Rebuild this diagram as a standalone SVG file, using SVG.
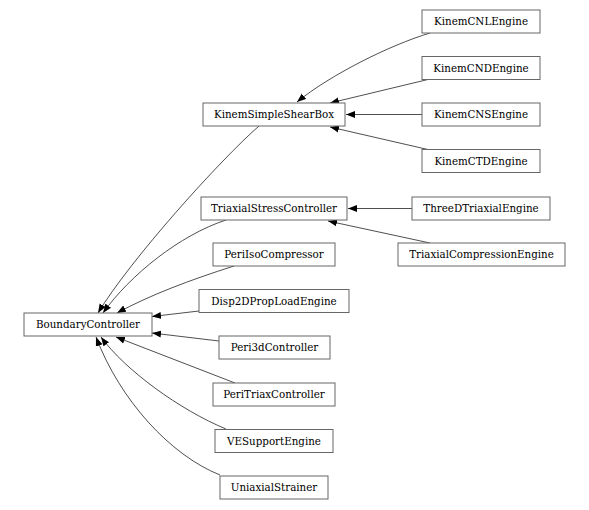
<svg xmlns="http://www.w3.org/2000/svg" width="589" height="510" viewBox="0 0 589 510">
<style>
.n rect{fill:#fff;stroke:#666;stroke-width:1}
.n text{font-family:"DejaVu Serif",serif;font-size:10.3px;fill:#000;text-anchor:middle}
.e path{fill:none;stroke:#222;stroke-width:0.8}
</style>
<defs>
<marker id="a" markerWidth="10" markerHeight="8" refX="9" refY="4" orient="auto" markerUnits="userSpaceOnUse">
<path d="M0,0.5 L9,4 L0,7.5 Z" fill="#000"/>
</marker>
</defs>
<rect width="589" height="510" fill="#fff"/>
<g class="e">
<path d="M430,33 C390,45 330,75 297,102" marker-end="url(#a)"/>
<path d="M430,79 L330,103" marker-end="url(#a)"/>
<path d="M422,114.5 L346,114.5" marker-end="url(#a)"/>
<path d="M430,150 L330,127" marker-end="url(#a)"/>
<path d="M412,208.5 L348,208.5" marker-end="url(#a)"/>
<path d="M430,243 L328,221" marker-end="url(#a)"/>
<path d="M259,126 C220,160 130,260 98,313" marker-end="url(#a)"/>
<path d="M226,220 C180,235 130,275 103,313" marker-end="url(#a)"/>
<path d="M234,266 C190,280 150,295 117,313" marker-end="url(#a)"/>
<path d="M199,311 L152,316.5" marker-end="url(#a)"/>
<path d="M219,341 L152,333" marker-end="url(#a)"/>
<path d="M235,383 L116,337" marker-end="url(#a)"/>
<path d="M226,429 C180,410 125,370 101,337" marker-end="url(#a)"/>
<path d="M220,475 C170,455 120,400 96,337" marker-end="url(#a)"/>
</g>
<g id="KinemCNLEngine" class="n"><rect x="422" y="10" width="118" height="23"/><text x="481" y="25">KinemCNLEngine</text></g>
<g id="KinemCNDEngine" class="n"><rect x="422" y="56.5" width="118" height="23"/><text x="481" y="71.5">KinemCNDEngine</text></g>
<g id="KinemSimpleShearBox" class="n"><rect x="203" y="103" width="142" height="23"/><text x="274" y="118">KinemSimpleShearBox</text></g>
<g id="KinemCNSEngine" class="n"><rect x="422" y="103" width="118" height="23"/><text x="481" y="118">KinemCNSEngine</text></g>
<g id="KinemCTDEngine" class="n"><rect x="422" y="149.5" width="118" height="23"/><text x="481" y="164.5">KinemCTDEngine</text></g>
<g id="TriaxialStressController" class="n"><rect x="201" y="197" width="146" height="23"/><text x="274" y="212">TriaxialStressController</text></g>
<g id="ThreeDTriaxialEngine" class="n"><rect x="412" y="197" width="138" height="23"/><text x="481" y="212">ThreeDTriaxialEngine</text></g>
<g id="TriaxialCompressionEngine" class="n"><rect x="398" y="243" width="167" height="23"/><text x="481.5" y="258">TriaxialCompressionEngine</text></g>
<g id="PeriIsoCompressor" class="n"><rect x="213" y="243" width="122" height="23"/><text x="274" y="258">PeriIsoCompressor</text></g>
<g id="Disp2DPropLoadEngine" class="n"><rect x="199" y="289.5" width="150" height="23"/><text x="274" y="304.5">Disp2DPropLoadEngine</text></g>
<g id="BoundaryController" class="n"><rect x="24" y="313" width="128" height="23"/><text x="88" y="328">BoundaryController</text></g>
<g id="Peri3dController" class="n"><rect x="219" y="336" width="111" height="23"/><text x="274.5" y="351">Peri3dController</text></g>
<g id="PeriTriaxController" class="n"><rect x="213" y="383" width="122" height="23"/><text x="274" y="398">PeriTriaxController</text></g>
<g id="VESupportEngine" class="n"><rect x="215" y="429.5" width="118" height="23"/><text x="274" y="444.5">VESupportEngine</text></g>
<g id="UniaxialStrainer" class="n"><rect x="220" y="476" width="108" height="23"/><text x="274" y="491">UniaxialStrainer</text></g>
</svg>
